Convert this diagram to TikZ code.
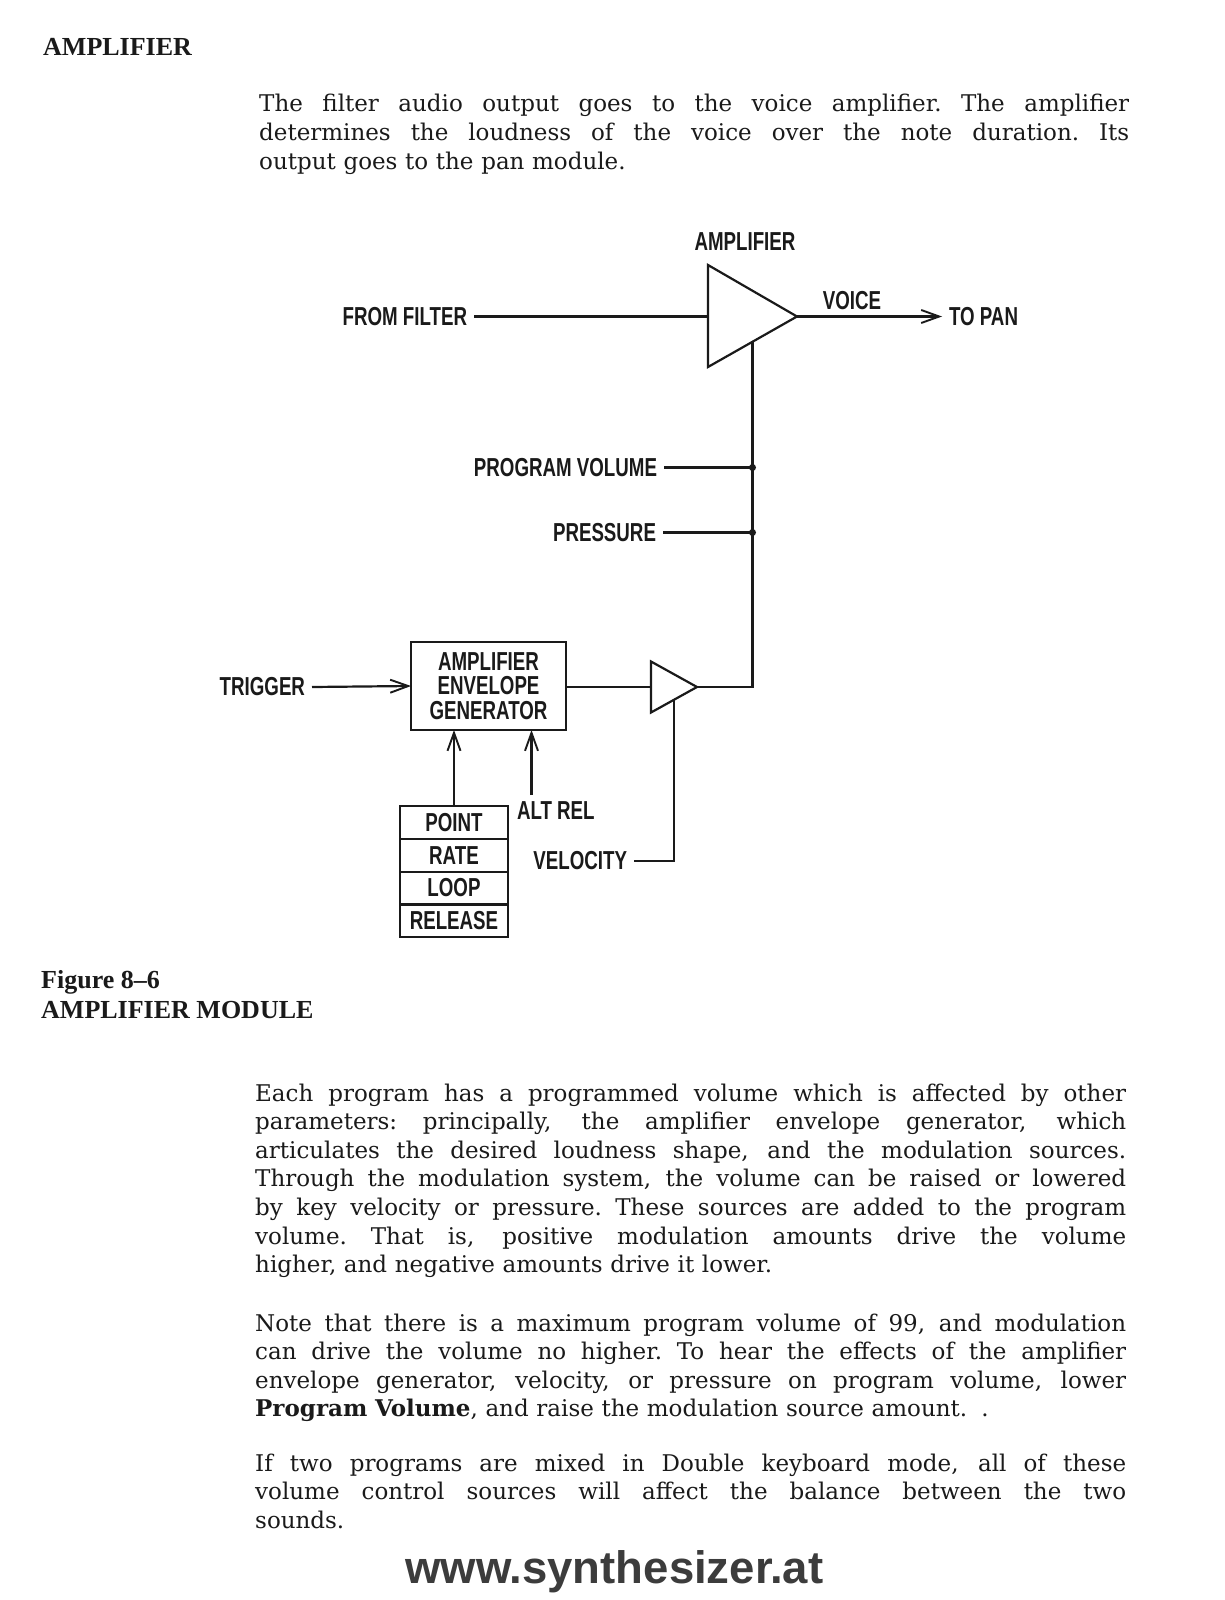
\documentclass[tikz,border=0pt]{standalone}
\usepackage{fontspec}
\setmainfont{DejaVu Serif}
\newfontfamily\headfont{Liberation Serif}
\newfontfamily\labelfont{Liberation Sans}[FakeStretch=0.72]
\newfontfamily\sitefont{Liberation Sans}
\usetikzlibrary{arrows.meta, calc}
\definecolor{ink}{HTML}{1A1A1A}
\setlength{\parindent}{0pt}
\newcommand{\fullline}[1]{\leavevmode\hbox to \hsize{\spaceskip=0.32em plus 1fil\xspaceskip=\spaceskip #1}}

\tikzset{
  wire/.style={ink, line width=2.2pt},
  arrowwire/.style={wire, -{Straight Barb[length=18pt,width=13pt,line width=1.9pt]}},
  lbl/.style={font=\labelfont\bfseries\fontsize{26}{24.5}\selectfont, text=ink, inner sep=0pt, outer xsep=7pt},
  cell/.style={lbl, draw=ink, line width=2.2pt, minimum width=108pt, minimum height=32.8pt, outer sep=0pt},
  bodytext/.style={font=\fontsize{23}{28.6}\selectfont, text=ink, inner sep=0pt, text width=870pt, align=left, anchor=base west},
  headtext/.style={font=\headfont\bfseries\fontsize{26}{30}\selectfont, text=ink, inner sep=0pt, anchor=base west},
  sitetext/.style={font=\sitefont\bfseries\fontsize{45.5}{46}\selectfont, text=ink!85, inner sep=0pt, anchor=base west},
  dot/.style={circle, fill=ink, inner sep=0pt, minimum size=7pt}
}

\begin{document}
\begin{tikzpicture}[x=1pt, y=-1pt]
  % Page size and background
  \def\pagewidth{1225}
  \def\pageheight{1600}
  \fill[white] (0,0) rectangle (\pagewidth,\pageheight);
  \useasboundingbox (0,0) rectangle (\pagewidth,\pageheight);

  % Section title and opening paragraph
  \node[headtext] (title) at (43,56) {AMPLIFIER};
  \node[bodytext] (intro) at (259,112) {%
    \fullline{The filter audio output goes to the voice amplifier. The amplifier}\\
    \fullline{determines the loudness of the voice over the note duration. Its}\\
    output goes to the pan module.};

  % Main amplifier
  \coordinate (ampA) at (708,265);
  \coordinate (ampB) at (708,367);
  \coordinate (ampout) at (797,316.5);
  \coordinate (ampin) at (708,316.5);
  \coordinate (ampctl) at ($(ampB)!0.5!(ampout)$);
  \draw[wire, line join=miter] (ampA) -- (ampout) -- (ampB) -- cycle;
  \node[lbl] (amplabel) at (745,242) {AMPLIFIER};
  \node[lbl, anchor=east] (fromfilter) at (474,316.5) {FROM FILTER};
  \node[lbl, anchor=west] (topan) at (942,316.5) {TO PAN};
  \node[lbl] (voice) at (852,301) {VOICE};
  \draw[wire] (fromfilter.east) -- (ampin);
  \draw[arrowwire] (ampout) -- (topan.west);

  % Modulation inputs to the amplifier
  \node[lbl, anchor=east] (progvol) at (664,467.5) {PROGRAM VOLUME};
  \node[lbl, anchor=east] (pressure) at (663,532.5) {PRESSURE};
  \coordinate (j1) at (progvol.east -| ampctl);
  \coordinate (j2) at (pressure.east -| ampctl);
  \draw[wire] (progvol.east) -- (j1);
  \draw[wire] (pressure.east) -- (j2);
  \node[dot] (dot1) at (j1) {};
  \node[dot] (dot2) at (j2) {};

  % Envelope generator
  \node[lbl, draw=ink, line width=2.2pt, minimum width=155pt, minimum height=88pt,
        align=center, outer sep=0pt] (aeg) at (488.5,686) {AMPLIFIER\\ENVELOPE\\GENERATOR};
  \node[lbl, anchor=east] (trigger) at (312,687) {TRIGGER};
  \draw[arrowwire] (trigger.east) -- (aeg.west);

  % Velocity amplifier
  \coordinate (vcaA) at (651,661.5);
  \coordinate (vcaB) at (651,712.5);
  \coordinate (vcaout) at (697,687);
  \coordinate (vcain) at (651,687);
  \coordinate (vcactl) at ($(vcaB)!0.5!(vcaout)$);
  \draw[wire, line join=miter] (vcaA) -- (vcaout) -- (vcaB) -- cycle;
  \draw[wire] (aeg.east |- vcain) -- (vcain);
  \draw[wire] (vcaout) -| (ampctl);
  \node[lbl, anchor=east] (velocity) at (634,861) {VELOCITY};
  \draw[wire] (velocity.east) -| (vcactl);

  % Envelope parameters
  \foreach \name [count=\i] in {POINT,RATE,LOOP,RELEASE}
    \node[cell] (param\i) at (454,{822.4+(\i-1)*32.8}) {\name};
  \draw[arrowwire] (param1.north) -- (param1.north |- aeg.south);
  \node[lbl, anchor=west] (altrel) at (510,811) {ALT REL};
  \coordinate (altin) at (531.5,795);
  \draw[arrowwire] (altin) -- (altin |- aeg.south);

  % Figure caption
  \node[headtext] (fignum) at (41,988) {Figure 8–6};
  \node[headtext] (figname) at (41,1018) {AMPLIFIER MODULE};

  % Closing paragraphs
  \node[bodytext, text width=871pt] (para1) at (255,1101) {%
    \fullline{Each program has a programmed volume which is affected by other}\\
    \fullline{parameters: principally, the amplifier envelope generator, which}\\
    \fullline{articulates the desired loudness shape, and the modulation sources.}\\
    \fullline{Through the modulation system, the volume can be raised or lowered}\\
    \fullline{by key velocity or pressure. These sources are added to the program}\\
    \fullline{volume. That is, positive modulation amounts drive the volume}\\
    higher, and negative amounts drive it lower.};
  \node[bodytext, text width=871pt] (para2) at (255,1331) {%
    \fullline{Note that there is a maximum program volume of 99, and modulation}\\
    \fullline{can drive the volume no higher. To hear the effects of the amplifier}\\
    \fullline{envelope generator, velocity, or pressure on program volume, lower}\\
    \textbf{Program Volume}, and raise the modulation source amount.\hspace{14pt}.};
  \node[bodytext, text width=871pt] (para3) at (255,1471) {%
    \fullline{If two programs are mixed in Double keyboard mode, all of these}\\
    \fullline{volume control sources will affect the balance between the two}\\
    sounds.};

  % Footer
  \node[sitetext] (site) at (405,1583) {www.synthesizer.at};
\end{tikzpicture}
\end{document}
